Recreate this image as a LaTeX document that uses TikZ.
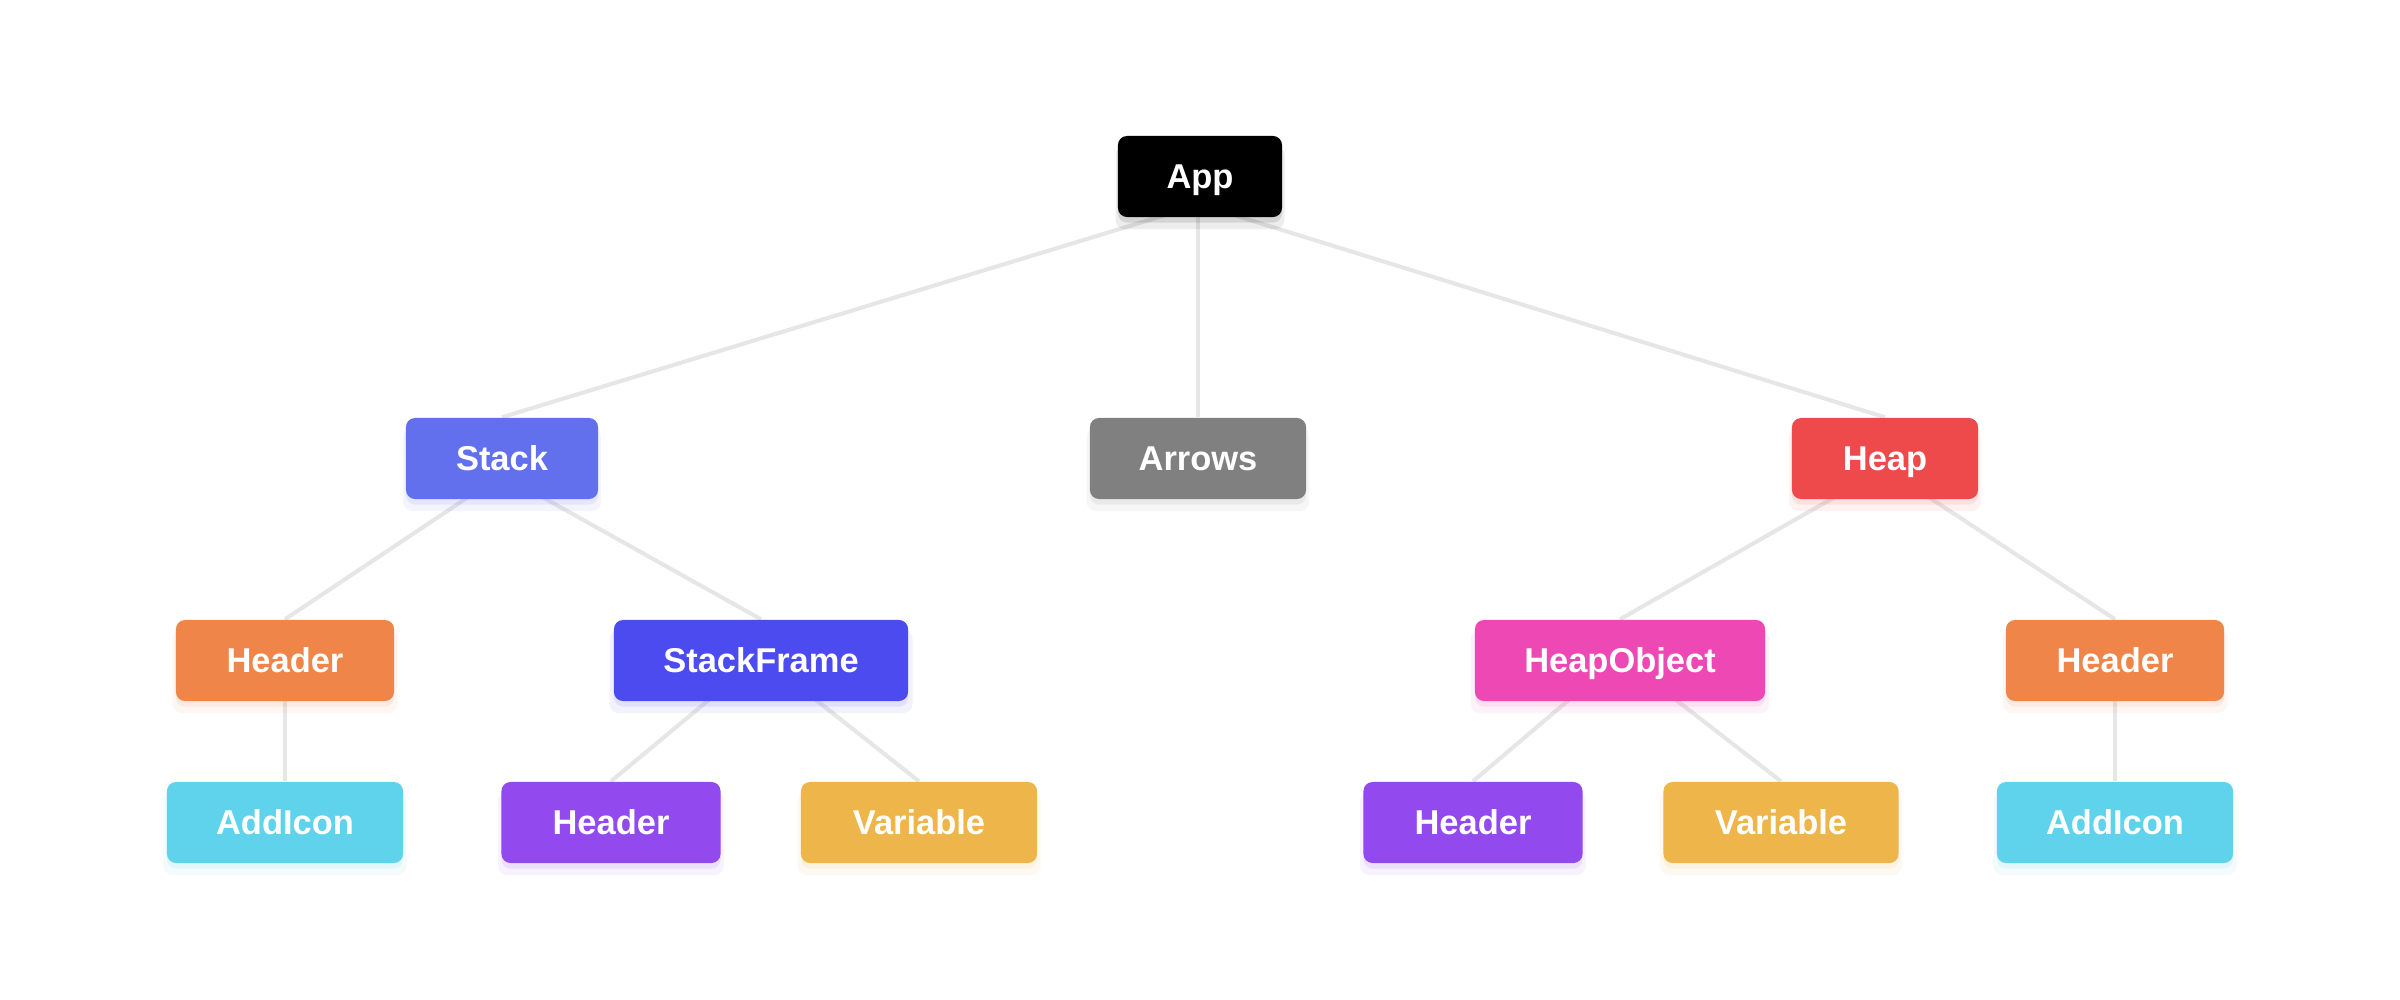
\documentclass[tikz,border=0pt]{standalone}
\usepackage{fontspec}
\setmainfont{Liberation Sans}
\usetikzlibrary{shadows,backgrounds}
\definecolor{cApp}{HTML}{000000}
\definecolor{cStack}{HTML}{6270ED}
\definecolor{cArrows}{HTML}{808080}
\definecolor{cHeap}{HTML}{EF4A4B}
\definecolor{cOrange}{HTML}{EF8549}
\definecolor{cCyan}{HTML}{5FD3EB}
\definecolor{cFrame}{HTML}{4C4BEF}
\definecolor{cPurple}{HTML}{9249EE}
\definecolor{cYellow}{HTML}{EEB64A}
\definecolor{cPink}{HTML}{EE48B4}
\definecolor{edgec}{HTML}{E6E6E6}
\tikzset{
  box/.style={rounded corners=2.6pt, fill=#1, text=white,
    font=\fontsize{9.8pt}{11pt}\selectfont\bfseries,
    minimum height=0.81cm, text height=7pt, text depth=0pt, inner sep=0pt,
    general shadow={fill=#1, opacity=0.07, shadow yshift=-3pt, shadow scale=1.03},
    general shadow={fill=#1, opacity=0.10, shadow yshift=-1.6pt}},
  edge/.style={draw=edgec, line width=1.15pt}
}
\begin{document}
\begin{tikzpicture}[x=0.01cm, y=-0.01cm]
\useasboundingbox (0,0) rectangle (2400,1000);
% row 0
\node[box=cApp, minimum width=1.64cm] (app) at (1200,176.5) {App};
% row 1
\node[box=cStack, minimum width=1.92cm] (stack) at (502,458.5) {Stack};
\node[box=cArrows, minimum width=2.16cm] (arrows) at (1198,458.5) {Arrows};
\node[box=cHeap, minimum width=1.86cm] (heap) at (1885,458.5) {Heap};
% row 2
\node[box=cOrange, minimum width=2.18cm] (hdrL) at (285,660.5) {Header};
\node[box=cFrame, minimum width=2.94cm] (frame) at (761,660.5) {StackFrame};
\node[box=cPink, minimum width=2.90cm] (hobj) at (1620,660.5) {HeapObject};
\node[box=cOrange, minimum width=2.18cm] (hdrR) at (2115,660.5) {Header};
% row 3
\node[box=cCyan, minimum width=2.36cm] (addL) at (285,822.5) {AddIcon};
\node[box=cPurple, minimum width=2.19cm] (hdrP1) at (611,822.5) {Header};
\node[box=cYellow, minimum width=2.36cm] (var1) at (919,822.5) {Variable};
\node[box=cPurple, minimum width=2.19cm] (hdrP2) at (1473,822.5) {Header};
\node[box=cYellow, minimum width=2.35cm] (var2) at (1781,822.5) {Variable};
\node[box=cCyan, minimum width=2.36cm] (addR) at (2115,822.5) {AddIcon};
% edges
\begin{scope}[on background layer]
\fill[white] (0,0) rectangle (2400,1000);
\draw[edge] ([yshift=-0.28cm]app.center) -- (stack.north);
\draw[edge] (arrows.north |- app.center) -- (arrows.north);
\draw[edge] ([yshift=-0.28cm]app.center) -- (heap.north);
\draw[edge] ([yshift=-0.16cm]stack.center) -- (hdrL.north);
\draw[edge] ([yshift=-0.16cm]stack.center) -- (frame.north);
\draw[edge] ([yshift=-0.10cm]heap.center) -- (hobj.north);
\draw[edge] ([yshift=-0.10cm]heap.center) -- (hdrR.north);
\draw[edge] (hdrL.center) -- (addL.north);
\draw[edge] (hdrR.center) -- (addR.north);
\draw[edge] ([yshift=0.04cm]frame.center) -- (hdrP1.north);
\draw[edge] ([yshift=0.04cm]frame.center) -- (var1.north);
\draw[edge] ([yshift=0.04cm]hobj.center) -- (hdrP2.north);
\draw[edge] ([yshift=0.04cm]hobj.center) -- (var2.north);
\end{scope}
\end{tikzpicture}
\end{document}
